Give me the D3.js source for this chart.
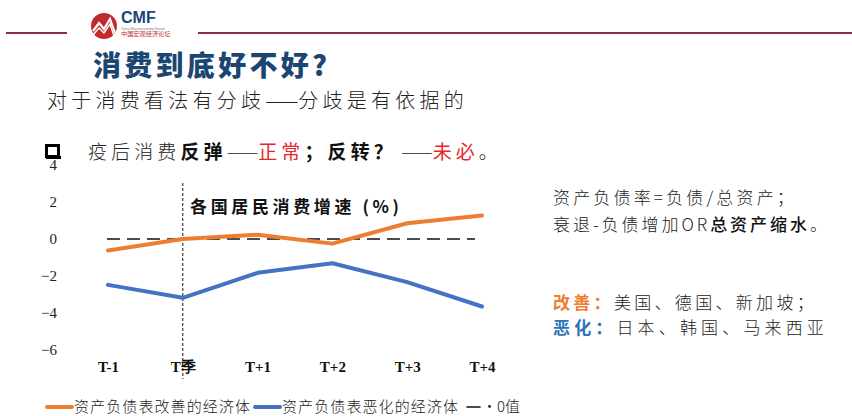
<!DOCTYPE html>
<html>
<head>
<meta charset="utf-8">
<script src="https://cdn.jsdelivr.net/npm/d3@7"></script>
<style>
  html, body { margin: 0; padding: 0; background: #fff; }
  svg { display: block; }
</style>
</head>
<body>
<svg id="slide" width="852" height="416"></svg>
<script>
// Quarters around the trough quarter "T季"
const categories = ["T-1", "T季", "T+1", "T+2", "T+3", "T+4"];
// Household consumption growth (%), balance sheet improved vs. deteriorated
const improvedValues = [-0.62, 0.0, 0.23, -0.25, 0.85, 1.27];
const worsenedValues = [-2.48, -3.18, -1.83, -1.31, -2.33, -3.65];
const zeroValues = [0, 0, 0, 0, 0, 0];
const yTicks = [4, 2, 0, -2, -4, -6];
const seriesNames = ["资产负债表改善的经济体", "资产负债表恶化的经济体", "·0值"];

const ORANGE = "#ED7D31", BLUE = "#4472C4", RED = "#E8262A", NAVY = "#1c4672";
const SANS = "'Noto Sans CJK SC', 'Noto Sans', sans-serif";
const SERIF = "'Liberation Serif', 'Times New Roman', serif";

const svg = d3.select("#slide");

// Writes a row of styled runs and spreads the glyphs to a target width.
// Dash runs keep zero spacing so "——" stays one continuous rule.
function textRow(x0, y0, size, parts, target) {
  const t = svg.append("text").attr("x", x0).attr("y", y0)
    .attr("font-family", SANS).attr("font-size", size).attr("fill", "#222");
  const spans = parts.map(([s, w, c]) =>
    t.append("tspan").text(s).attr("font-weight", w).attr("fill", c || "#222")
      .attr("data-dash", /^[\s—]+$/.test(s) ? 1 : 0));
  const natural = t.node().getComputedTextLength();
  let n = 0;
  spans.forEach(sp => { if (sp.attr("data-dash") === "0") n += sp.text().length; });
  const gap = Math.max(0, (target - natural) / Math.max(1, n));
  spans.forEach(sp => sp.style("letter-spacing", sp.attr("data-dash") === "0" ? gap + "px" : "0px"));
  return t;
}

// ---- header band and logo ----
const rule = "#8e2a47";
svg.append("line").attr("x1", 6).attr("x2", 67).attr("y1", 33).attr("y2", 33)
  .attr("stroke", rule).attr("stroke-width", 2);
svg.append("line").attr("x1", 198).attr("x2", 852).attr("y1", 33).attr("y2", 33)
  .attr("stroke", rule).attr("stroke-width", 2);

const logo = svg.append("g");
logo.append("circle").attr("cx", 104).attr("cy", 26).attr("r", 13).attr("fill", "#c22a2f");
logo.append("polyline")
  .attr("points", "93,31 99,23 104,29 110,19 115,33")
  .attr("fill", "none").attr("stroke", "#fff").attr("stroke-width", 2.2);
logo.append("polyline")
  .attr("points", "93,35 99,28 104,33 110,24 114,36")
  .attr("fill", "none").attr("stroke", "#fff").attr("stroke-width", 1.4);
logo.append("text").attr("x", 121).attr("y", 23).text("CMF")
  .attr("font-family", "Arial, 'Liberation Sans', sans-serif").attr("font-weight", 700)
  .attr("font-size", 16).attr("fill", NAVY);
logo.append("text").attr("x", 121).attr("y", 29.5).text("China Macroeconomy Forum")
  .attr("font-family", "'Liberation Sans', sans-serif").attr("font-size", 3.4).attr("fill", "#777");
logo.append("text").attr("x", 121).attr("y", 36).text("中国宏观经济论坛")
  .attr("font-family", SANS).attr("font-size", 6.2).attr("fill", "#c22a2f");

// ---- title block ----
svg.append("text").attr("x", 93).attr("y", 76).text("消费到底好不好?")
  .attr("font-family", SANS).attr("font-weight", 900).attr("font-size", 28)
  .attr("fill", NAVY).attr("textLength", 234).attr("lengthAdjust", "spacing");

textRow(47, 108, 20, [
  ["对于消费看法有分歧", 300], ["——", 300], ["分歧是有依据的", 300]
], 421);

// bullet box
svg.append("rect").attr("x", 46.5).attr("y", 145.5).attr("width", 12).attr("height", 11)
  .attr("fill", "none").attr("stroke", "#000").attr("stroke-width", 3);
svg.append("rect").attr("x", 46).attr("y", 156).attr("width", 15).attr("height", 3).attr("fill", "#000");

textRow(88, 159, 19, [
  ["疫后消费", 300], ["反弹", 700, "#111"], ["——", 300],
  ["正常", 400, RED], ["；", 700, "#111"], ["反转？", 700, "#111"],
  [" ——", 300], ["未必", 400, RED], ["。", 300]
], 414);

// ---- chart ----
const x = d3.scalePoint().domain(categories).range([108, 482]);
const y = d3.scaleLinear().domain([-6, 4]).range([350, 165]);

const yAxis = svg.append("g").attr("transform", "translate(60,0)")
  .call(d3.axisLeft(y).tickValues(yTicks).tickSize(0).tickPadding(3).tickFormat(d3.format("d")));
yAxis.select(".domain").remove();
yAxis.selectAll("text").attr("font-family", SERIF).attr("font-size", 15).attr("fill", "#222");

const xAxis = svg.append("g").attr("transform", "translate(0,359)")
  .call(d3.axisBottom(x).tickSize(0).tickPadding(2));
xAxis.select(".domain").remove();
xAxis.selectAll("text").attr("font-family", SERIF).attr("font-weight", 700)
  .attr("font-size", 15).attr("fill", "#111");

// trough marker
svg.append("line").attr("x1", x("T季")).attr("x2", x("T季")).attr("y1", 183).attr("y2", 379)
  .attr("stroke", "#111").attr("stroke-width", 1).attr("stroke-dasharray", "3,2");

// zero reference
svg.append("path")
  .datum(zeroValues)
  .attr("d", d3.line().x((d, i) => x(categories[i]) - (i === 0 ? 1 : 0) - (i === 5 ? 7 : 0)).y(d => y(d)))
  .attr("fill", "none").attr("stroke", "#111").attr("stroke-width", 1.6)
  .attr("stroke-dasharray", "13,7");

const line = d3.line().x((d, i) => x(categories[i])).y(d => y(d));
[[improvedValues, ORANGE], [worsenedValues, BLUE]].forEach(([vals, c]) => {
  svg.append("path").datum(vals).attr("d", line)
    .attr("fill", "none").attr("stroke", c).attr("stroke-width", 4)
    .attr("stroke-linejoin", "round").attr("stroke-linecap", "round");
});

svg.append("text").attr("x", 190).attr("y", 213)
  .attr("font-family", SANS).attr("font-weight", 700).attr("font-size", 17).attr("fill", "#111")
  .text("各国居民消费增速 (%)").attr("textLength", 209).attr("lengthAdjust", "spacing");

// legend
const legend = [
  { x: 47, color: ORANGE, w: 4, len: 25, name: seriesNames[0] },
  { x: 255, color: BLUE, w: 4, len: 25, name: seriesNames[1] },
  { x: 467, color: "#111", w: 1.6, len: 13, name: seriesNames[2] }
];
legend.forEach(l => {
  svg.append("line").attr("x1", l.x).attr("x2", l.x + l.len).attr("y1", 407).attr("y2", 407)
    .attr("stroke", l.color).attr("stroke-width", l.w).attr("stroke-linecap", "round");
  svg.append("text").attr("x", l.x + l.len + 2).attr("y", 412).text(l.name)
    .attr("font-family", SANS).attr("font-weight", 300).attr("font-size", 15).attr("fill", "#222")
    .attr("textLength", l === legend[2] ? null : 176).attr("lengthAdjust", "spacing");
});

// ---- side notes ----
textRow(553, 204, 17, [["资产负债率=负债/总资产；", 300]], 244);
textRow(553, 231, 17, [["衰退-负债增加OR", 300], ["总资产缩水", 500, "#111"], ["。", 300]], 277);
textRow(553, 309, 17, [["改善：", 700, ORANGE], ["美国、德国、新加坡；", 300]], 264);
textRow(553, 334, 17, [["恶化：", 700, "#2E75B6"], ["日本、韩国、马来西亚", 300]], 275);
</script>
</body>
</html>
